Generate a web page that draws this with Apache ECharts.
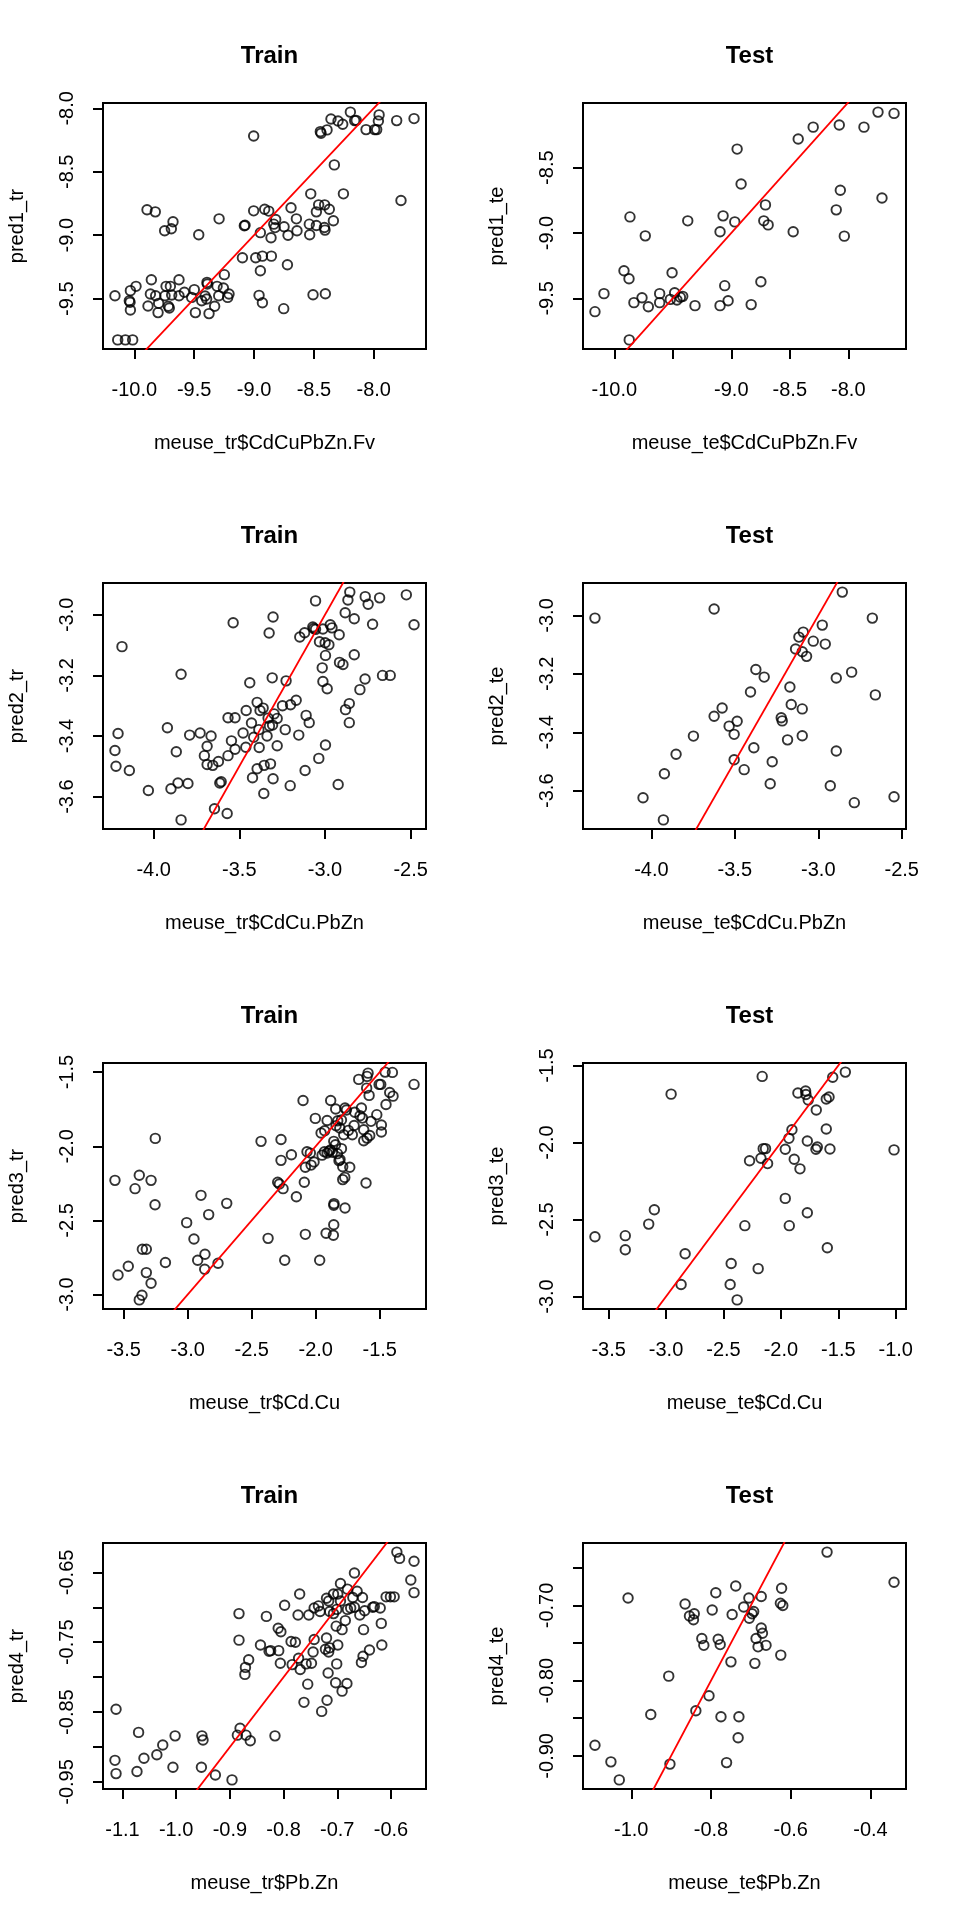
<!DOCTYPE html>
<html><head><meta charset="utf-8">
<script src="https://cdn.jsdelivr.net/npm/echarts@6/dist/echarts.min.js"></script>
<style>html,body{margin:0;padding:0;background:#fff}#c{width:960px;height:1920px}</style>
</head><body><div id="c"></div>
<script>
// ---------- data (x = observed, y = predicted) ----------
const pred1_tr = [[-8.195,-8.03],[-8.357,-8.084],[-8.298,-8.10],[-8.259,-8.126],[-8.159,-8.097],[-8.146,-8.095],[-8.446,-8.184],[-8.44,-8.197],[-8.39,-8.17],[-8.064,-8.168],[-7.992,-8.168],[-7.975,-8.168],[-7.955,-8.052],[-7.961,-8.10],[-7.808,-8.097],[-7.663,-8.081],[-9.003,-8.218],[-8.329,-8.446],[-7.772,-8.727],[-8.526,-8.674],[-8.253,-8.674],
[-9.894,-8.80],[-9.825,-8.816],[-9.677,-8.894],[-9.691,-8.949],[-9.747,-8.965],[-9.462,-8.997],[-9.292,-8.871],[-9.003,-8.808],[-8.911,-8.795],[-8.877,-8.81],[-8.691,-8.784],[-9.081,-8.926],[-9.075,-8.921],[-8.947,-8.98],[-8.858,-9.02],[-8.819,-8.876],[-8.835,-8.913],[-8.824,-8.94],[-8.749,-8.934],[-8.716,-9.0],[-8.646,-8.871],[-8.641,-8.965],[-8.538,-8.913],[-8.535,-8.997],[-8.479,-8.816],[-8.46,-8.761],[-8.41,-8.761],[-8.371,-8.795],[-8.479,-8.923],[-8.412,-8.939],[-8.407,-8.96],[-8.337,-8.886],
[-9.097,-9.178],[-8.986,-9.178],[-8.93,-9.165],[-8.855,-9.165],[-8.947,-9.28],[-8.721,-9.233],[-8.958,-9.474],[-8.93,-9.532],[-8.752,-9.579],[-8.507,-9.469],[-8.404,-9.461],
[-10.162,-9.477],[-10.033,-9.437],[-9.986,-9.403],[-10.042,-9.516],[-10.036,-9.529],[-10.033,-9.589],[-9.858,-9.351],[-9.866,-9.463],[-9.822,-9.477],[-9.886,-9.558],[-9.797,-9.537],[-9.802,-9.61],[-9.735,-9.403],[-9.699,-9.403],[-9.744,-9.477],[-9.688,-9.471],[-9.716,-9.56],[-9.708,-9.574],[-9.627,-9.351],[-9.627,-9.477],[-9.582,-9.45],[-9.499,-9.429],[-9.521,-9.49],[-9.49,-9.61],[-9.393,-9.372],[-9.39,-9.385],[-9.437,-9.516],[-9.409,-9.479],[-9.396,-9.503],[-9.376,-9.618],[-9.329,-9.56],[-9.309,-9.403],[-9.256,-9.416],[-9.248,-9.311],[-9.295,-9.477],[-9.22,-9.49],[-9.209,-9.463],[-10.139,-9.825],[-10.075,-9.825],[-10.014,-9.825]];

const pred1_te = [[-7.746,-8.075],[-7.609,-8.085],[-7.866,-8.19],[-8.077,-8.174],[-8.3,-8.19],[-8.428,-8.281],[-8.95,-8.358],[-8.916,-8.625],[-8.068,-8.673],[-7.712,-8.732],[-8.103,-8.823],[-8.708,-8.785],[-8.722,-8.907],[-8.685,-8.938],[-8.471,-8.991],[-8.034,-9.024],[-9.07,-8.869],[-8.97,-8.915],[-9.096,-8.991],[-9.372,-8.907],[-9.866,-8.877],[-9.735,-9.022],[-9.917,-9.289],[-9.874,-9.35],[-9.506,-9.304],[-9.056,-9.403],[-8.747,-9.373],[-10.088,-9.464],[-9.763,-9.495],[-9.832,-9.533],[-9.709,-9.564],[-9.612,-9.464],[-9.612,-9.533],[-9.484,-9.457],[-9.521,-9.508],[-9.464,-9.513],[-9.435,-9.492],[-9.415,-9.485],[-9.31,-9.556],[-9.096,-9.556],[-9.027,-9.518],[-8.83,-9.548],[-10.165,-9.602],[-9.872,-9.818]];

const pred2_tr = [[-2.855,-2.925],[-2.866,-2.951],[-3.055,-2.954],[-2.765,-2.94],[-2.748,-2.965],[-2.681,-2.944],[-2.525,-2.934],[-2.48,-3.033],[-2.722,-3.031],[-2.882,-2.993],[-2.829,-3.013],[-3.303,-3.007],[-3.536,-3.026],[-3.326,-3.06],[-4.185,-3.105],[-3.071,-3.04],[-3.065,-3.045],[-3.055,-3.048],[-3.119,-3.059],[-3.147,-3.073],[-3.012,-3.047],[-2.969,-3.033],[-2.959,-3.043],[-2.917,-3.066],[-3.032,-3.089],[-2.999,-3.092],[-2.977,-3.099],[-2.997,-3.134],[-3.016,-3.175],[-2.915,-3.157],[-2.895,-3.164],[-2.829,-3.132],[-2.664,-3.2],[-2.619,-3.2],[-2.766,-3.212],[-2.796,-3.247],[-3.012,-3.22],[-2.987,-3.244],[-3.84,-3.196],[-3.439,-3.224],[-3.308,-3.208],[-3.227,-3.218],[-3.168,-3.282],[-3.201,-3.297],[-3.248,-3.3],[-3.396,-3.289],[-3.361,-3.308],[-3.379,-3.316],[-3.46,-3.316],[-3.297,-3.327],[-3.332,-3.341],[-3.279,-3.342],[-3.324,-3.367],[-3.306,-3.364],[-3.566,-3.34],[-3.525,-3.34],[-3.429,-3.357],[-3.386,-3.379],[-3.232,-3.379],[-3.11,-3.332],[-3.092,-3.356],[-3.153,-3.397],[-2.88,-3.313],[-2.858,-3.293],[-2.858,-3.356],[-3.478,-3.39],[-3.416,-3.404],[-3.338,-3.4],[-3.546,-3.416],[-3.462,-3.437],[-3.525,-3.444],[-3.384,-3.438],[-3.279,-3.432],[-3.566,-3.465],[-2.997,-3.43],[-3.036,-3.474],[-3.92,-3.373],[-3.79,-3.397],[-3.729,-3.39],[-3.665,-3.4],[-3.688,-3.434],[-3.704,-3.465],[-3.688,-3.494],[-3.655,-3.497],[-3.622,-3.484],[-4.208,-3.392],[-4.226,-3.448],[-4.22,-3.5],[-4.142,-3.514],[-3.868,-3.452],[-3.396,-3.508],[-3.355,-3.497],[-3.318,-3.492],[-3.423,-3.538],[-3.303,-3.541],[-3.116,-3.514],[-3.203,-3.564],[-3.357,-3.59],[-2.923,-3.56],[-4.031,-3.58],[-3.899,-3.574],[-3.858,-3.555],[-3.8,-3.557],[-3.614,-3.555],[-3.606,-3.551],[-3.645,-3.64],[-3.571,-3.656],[-3.84,-3.677]];

const pred2_te = [[-4.338,-3.009],[-3.624,-2.978],[-2.856,-2.92],[-2.676,-3.009],[-2.976,-3.033],[-3.09,-3.057],[-3.116,-3.074],[-3.03,-3.088],[-2.958,-3.098],[-3.136,-3.115],[-3.096,-3.124],[-3.07,-3.14],[-2.8,-3.194],[-2.892,-3.214],[-2.658,-3.272],[-3.374,-3.185],[-3.324,-3.211],[-3.406,-3.262],[-3.17,-3.245],[-3.162,-3.305],[-3.096,-3.32],[-3.576,-3.317],[-3.624,-3.345],[-3.486,-3.362],[-3.534,-3.379],[-3.504,-3.407],[-3.222,-3.35],[-3.216,-3.361],[-3.184,-3.426],[-3.096,-3.412],[-3.748,-3.413],[-3.852,-3.475],[-3.386,-3.453],[-3.504,-3.494],[-3.444,-3.528],[-3.276,-3.501],[-2.892,-3.464],[-3.922,-3.542],[-3.288,-3.576],[-2.928,-3.583],[-4.05,-3.624],[-2.784,-3.641],[-2.546,-3.621],[-3.928,-3.7]];

const pred3_tr = [[-1.591,-1.507],[-1.599,-1.529],[-1.458,-1.5],[-1.401,-1.502],[-1.664,-1.549],[-1.505,-1.583],[-1.492,-1.583],[-1.232,-1.583],[-1.602,-1.608],[-1.583,-1.657],[-1.422,-1.637],[-1.396,-1.662],[-1.451,-1.718],[-2.099,-1.691],[-1.883,-1.691],[-1.844,-1.749],[-1.771,-1.742],[-1.76,-1.756],[-1.643,-1.742],[-1.695,-1.771],[-1.654,-1.794],[-1.635,-1.81],[-1.523,-1.787],[-2.003,-1.812],[-1.911,-1.826],[-1.828,-1.828],[-1.799,-1.823],[-1.568,-1.832],[-1.487,-1.857],[-1.487,-1.904],[-1.625,-1.889],[-1.578,-1.927],[-1.599,-1.945],[-1.625,-1.963],[-1.93,-1.895],[-1.958,-1.911],[-1.841,-1.862],[-1.812,-1.877],[-1.781,-1.922],[-1.745,-1.893],[-1.714,-1.922],[-1.70,-1.86],[-1.859,-1.967],[-1.846,-1.99],[-1.799,-2.016],[-1.885,-2.025],[-1.87,-2.04],[-1.83,-2.05],[-1.95,-2.06],[-2.068,-2.037],[-2.042,-2.046],[-1.932,-2.037],[-1.911,-2.046],[-1.896,-2.034],[-1.818,-2.097],[-1.81,-2.09],[-2.013,-2.106],[-2.036,-2.127],[-2.081,-2.142],[-1.789,-2.138],[-1.734,-2.142],[-1.789,-2.225],[-1.773,-2.21],[-1.607,-2.248],[-2.427,-1.967],[-2.271,-1.954],[-2.19,-2.057],[-2.271,-2.095],[-2.297,-2.243],[-2.284,-2.255],[-2.255,-2.286],[-2.089,-2.243],[-2.151,-2.34],[-1.857,-2.387],[-1.859,-2.398],[-1.771,-2.416],[-1.859,-2.529],[-1.919,-2.587],[-1.862,-2.6],[-2.081,-2.594],[-2.372,-2.621],[-2.242,-2.769],[-1.969,-2.769],[-3.253,-1.947],[-3.568,-2.23],[-3.378,-2.196],[-3.286,-2.23],[-3.411,-2.286],[-3.255,-2.394],[-2.896,-2.331],[-2.695,-2.385],[-2.836,-2.461],[-3.008,-2.515],[-2.951,-2.625],[-3.354,-2.695],[-3.323,-2.695],[-2.865,-2.728],[-2.922,-2.769],[-2.867,-2.829],[-2.763,-2.789],[-3.174,-2.784],[-3.464,-2.809],[-3.544,-2.868],[-3.323,-2.852],[-3.286,-2.924],[-3.357,-3.005],[-3.378,-3.036]];

const pred3_te = [[-1.439,-1.543],[-1.549,-1.576],[-2.163,-1.571],[-2.956,-1.686],[-1.852,-1.679],[-1.785,-1.666],[-1.782,-1.688],[-1.762,-1.724],[-1.605,-1.718],[-1.581,-1.705],[-1.692,-1.789],[-1.904,-1.917],[-1.605,-1.912],[-1.93,-1.973],[-1.77,-1.99],[-1.683,-2.029],[-1.695,-2.044],[-1.573,-2.042],[-1.015,-2.048],[-2.154,-2.04],[-2.134,-2.04],[-1.962,-2.044],[-2.174,-2.102],[-2.116,-2.137],[-2.273,-2.119],[-1.884,-2.109],[-1.834,-2.171],[-1.962,-2.363],[-1.77,-2.456],[-1.927,-2.54],[-2.314,-2.54],[-1.596,-2.683],[-3.102,-2.437],[-3.151,-2.53],[-3.619,-2.612],[-3.355,-2.605],[-3.355,-2.696],[-2.834,-2.722],[-2.433,-2.786],[-2.198,-2.819],[-2.869,-2.922],[-2.442,-2.922],[-2.381,-3.022]];

const pred4_tr = [[-0.589,-0.621],[-0.584,-0.63],[-0.557,-0.634],[-0.563,-0.661],[-0.557,-0.679],[-0.668,-0.651],[-0.609,-0.685],[-0.601,-0.685],[-0.594,-0.685],[-0.694,-0.666],[-0.681,-0.674],[-0.663,-0.677],[-0.653,-0.686],[-0.671,-0.686],[-0.707,-0.681],[-0.699,-0.681],[-0.72,-0.687],[-0.716,-0.691],[-0.694,-0.691],[-0.77,-0.681],[-0.798,-0.697],[-0.743,-0.701],[-0.735,-0.698],[-0.732,-0.706],[-0.753,-0.711],[-0.773,-0.711],[-0.714,-0.706],[-0.707,-0.709],[-0.701,-0.703],[-0.681,-0.703],[-0.675,-0.701],[-0.668,-0.7],[-0.658,-0.711],[-0.649,-0.705],[-0.634,-0.7],[-0.631,-0.699],[-0.62,-0.701],[-0.618,-0.723],[-0.617,-0.754],[-0.64,-0.761],[-0.652,-0.77],[-0.655,-0.779],[-0.651,-0.732],[-0.685,-0.719],[-0.702,-0.727],[-0.691,-0.732],[-0.699,-0.754],[-0.72,-0.744],[-0.714,-0.758],[-0.716,-0.764],[-0.722,-0.76],[-0.743,-0.746],[-0.745,-0.764],[-0.786,-0.749],[-0.778,-0.75],[-0.81,-0.73],[-0.805,-0.735],[-0.832,-0.713],[-0.883,-0.709],[-0.883,-0.747],[-0.843,-0.754],[-0.827,-0.763],[-0.824,-0.762],[-0.809,-0.762],[-0.806,-0.78],[-0.784,-0.782],[-0.772,-0.773],[-0.769,-0.789],[-0.758,-0.781],[-0.748,-0.78],[-0.701,-0.781],[-0.717,-0.794],[-0.703,-0.808],[-0.682,-0.809],[-0.691,-0.82],[-0.755,-0.81],[-0.762,-0.836],[-0.719,-0.833],[-0.729,-0.849],[-0.865,-0.775],[-0.871,-0.786],[-0.872,-0.796],[-1.112,-0.846],[-1.07,-0.879],[-1.002,-0.884],[-0.952,-0.884],[-0.95,-0.89],[-1.025,-0.897],[-1.036,-0.911],[-1.06,-0.916],[-1.114,-0.919],[-1.112,-0.938],[-1.073,-0.935],[-1.006,-0.929],[-0.953,-0.929],[-0.927,-0.94],[-0.896,-0.947],[-0.881,-0.873],[-0.886,-0.883],[-0.87,-0.883],[-0.862,-0.891],[-0.816,-0.884]];

const pred4_te = [[-0.509,-0.629],[-0.341,-0.669],[-1.008,-0.69],[-0.738,-0.674],[-0.788,-0.683],[-0.865,-0.698],[-0.797,-0.706],[-0.747,-0.712],[-0.705,-0.69],[-0.718,-0.702],[-0.674,-0.688],[-0.623,-0.677],[-0.626,-0.697],[-0.62,-0.7],[-0.693,-0.708],[-0.697,-0.711],[-0.704,-0.717],[-0.854,-0.714],[-0.842,-0.711],[-0.844,-0.719],[-0.823,-0.744],[-0.818,-0.753],[-0.782,-0.745],[-0.777,-0.752],[-0.674,-0.73],[-0.671,-0.737],[-0.687,-0.744],[-0.682,-0.755],[-0.662,-0.753],[-0.625,-0.766],[-0.75,-0.775],[-0.69,-0.777],[-0.906,-0.794],[-0.805,-0.82],[-0.838,-0.84],[-0.951,-0.845],[-0.775,-0.848],[-0.73,-0.848],[-0.732,-0.876],[-1.091,-0.886],[-1.051,-0.908],[-0.903,-0.911],[-0.761,-0.909],[-1.03,-0.932]];

// ---------- titles and axis names ----------
const panelTitles = ['Train','Test','Train','Test','Train','Test','Train','Test'];
const xNames = ['meuse_tr$CdCuPbZn.Fv','meuse_te$CdCuPbZn.Fv','meuse_tr$CdCu.PbZn','meuse_te$CdCu.PbZn','meuse_tr$Cd.Cu','meuse_te$Cd.Cu','meuse_tr$Pb.Zn','meuse_te$Pb.Zn'];
const yNames = ['pred1_tr','pred1_te','pred2_tr','pred2_te','pred3_tr','pred3_te','pred4_tr','pred4_te'];

// ---------- ticks (value) and tick labels ('' = tick without label) ----------
const xTicks1 = [-10,-9.5,-9,-8.5,-8];            const xLabels1 = ['-10.0','-9.5','-9.0','-8.5','-8.0'];
const yTicks1 = [-9.5,-9,-8.5,-8];                const yLabels1 = ['-9.5','-9.0','-8.5','-8.0'];
const xTicks2 = [-10,-9.5,-9,-8.5,-8];            const xLabels2 = ['-10.0','','-9.0','-8.5','-8.0'];
const yTicks2 = [-9.5,-9,-8.5];                   const yLabels2 = ['-9.5','-9.0','-8.5'];
const xTicks3 = [-4,-3.5,-3,-2.5];                const xLabels3 = ['-4.0','-3.5','-3.0','-2.5'];
const yTicks3 = [-3.6,-3.4,-3.2,-3.0];            const yLabels3 = ['-3.6','-3.4','-3.2','-3.0'];
const xTicks4 = [-4,-3.5,-3,-2.5];                const xLabels4 = ['-4.0','-3.5','-3.0','-2.5'];
const yTicks4 = [-3.6,-3.4,-3.2,-3.0];            const yLabels4 = ['-3.6','-3.4','-3.2','-3.0'];
const xTicks5 = [-3.5,-3,-2.5,-2,-1.5];           const xLabels5 = ['-3.5','-3.0','-2.5','-2.0','-1.5'];
const yTicks5 = [-3,-2.5,-2,-1.5];                const yLabels5 = ['-3.0','-2.5','-2.0','-1.5'];
const xTicks6 = [-3.5,-3,-2.5,-2,-1.5,-1];        const xLabels6 = ['-3.5','-3.0','-2.5','-2.0','-1.5','-1.0'];
const yTicks6 = [-3,-2.5,-2,-1.5];                const yLabels6 = ['-3.0','-2.5','-2.0','-1.5'];
const xTicks7 = [-1.1,-1.0,-0.9,-0.8,-0.7,-0.6];  const xLabels7 = ['-1.1','-1.0','-0.9','-0.8','-0.7','-0.6'];
const yTicks7 = [-0.95,-0.9,-0.85,-0.8,-0.75,-0.7,-0.65]; const yLabels7 = ['-0.95','','-0.85','','-0.75','','-0.65'];
const xTicks8 = [-1.0,-0.8,-0.6,-0.4];            const xLabels8 = ['-1.0','-0.8','-0.6','-0.4'];
const yTicks8 = [-0.9,-0.85,-0.8,-0.75,-0.7,-0.65]; const yLabels8 = ['-0.90','','-0.80','','-0.70',''];

// ---------- assemble ----------
const panels = [
  {d: pred1_tr, xt: xTicks1, xl: xLabels1, yt: yTicks1, yl: yLabels1},
  {d: pred1_te, xt: xTicks2, xl: xLabels2, yt: yTicks2, yl: yLabels2},
  {d: pred2_tr, xt: xTicks3, xl: xLabels3, yt: yTicks3, yl: yLabels3},
  {d: pred2_te, xt: xTicks4, xl: xLabels4, yt: yTicks4, yl: yLabels4},
  {d: pred3_tr, xt: xTicks5, xl: xLabels5, yt: yTicks5, yl: yLabels5},
  {d: pred3_te, xt: xTicks6, xl: xLabels6, yt: yTicks6, yl: yLabels6},
  {d: pred4_tr, xt: xTicks7, xl: xLabels7, yt: yTicks7, yl: yLabels7},
  {d: pred4_te, xt: xTicks8, xl: xLabels8, yt: yTicks8, yl: yLabels8}
];

const FONT = '"Liberation Sans", Arial, Helvetica, sans-serif';
// R-style axis range: data range extended by 4% on each side
function rRange(vals) {
  const lo = Math.min(...vals), hi = Math.max(...vals), e = (hi - lo) * 0.04;
  return [lo - e, hi + e];
}
function labelFor(ticks, labels) {
  return v => { let bi = 0; ticks.forEach((t, i) => { if (Math.abs(t - v) < Math.abs(ticks[bi] - v)) bi = i; }); return labels[bi]; };
}

const grids = [], xAxes = [], yAxes = [], titles = [], series = [];
panels.forEach((p, i) => {
  const col = i % 2, row = Math.floor(i / 2);
  const ox = col * 480, oy = row * 480;
  const xr = rRange(p.d.map(a => a[0])), yr = rRange(p.d.map(a => a[1]));
  grids.push({left: ox + 103, top: oy + 103, width: 323, height: 246, show: true,
              borderColor: '#000', borderWidth: 2, backgroundColor: 'transparent', containLabel: false});
  titles.push({text: panelTitles[i], left: ox + 264.5, top: oy + 39, textAlign: 'center',
               textStyle: {fontFamily: FONT, fontSize: 24, fontWeight: 'bold', color: '#000'}});
  const common = {
    type: 'value', gridIndex: i, scale: true,
    splitLine: {show: false},
    axisLine: {show: false, onZero: false},
    axisTick: {show: true, length: 10, inside: false, lineStyle: {color: '#000', width: 2}},
    nameLocation: 'middle',
    nameTextStyle: {fontFamily: FONT, fontSize: 20, color: '#000'}
  };
  xAxes.push(Object.assign({}, common, {
    min: xr[0], max: xr[1], name: xNames[i], nameGap: 84,
    axisTick: Object.assign({}, common.axisTick, {customValues: p.xt}),
    axisLabel: {customValues: p.xt.filter((t, k) => p.xl[k] !== ''), formatter: labelFor(p.xt, p.xl),
                fontFamily: FONT, fontSize: 20, color: '#000', margin: 31, hideOverlap: false,
                showMinLabel: true, showMaxLabel: true}
  }));
  yAxes.push(Object.assign({}, common, {
    min: yr[0], max: yr[1], name: yNames[i], nameGap: 76, nameRotate: 90,
    axisTick: Object.assign({}, common.axisTick, {customValues: p.yt}),
    axisLabel: {customValues: p.yt.filter((t, k) => p.yl[k] !== ''), formatter: labelFor(p.yt, p.yl),
                rotate: 90, fontFamily: FONT, fontSize: 20, color: '#000', margin: 26, hideOverlap: false}
  }));
  series.push({type: 'scatter', xAxisIndex: i, yAxisIndex: i, data: p.d, symbol: 'circle', symbolSize: 9.5,
               itemStyle: {color: 'rgba(0,0,0,0)', borderColor: '#000', borderWidth: 1.9}, silent: true});
  const lo = Math.min(xr[0], yr[0]) - 1, hi = Math.max(xr[1], yr[1]) + 1;
  series.push({type: 'line', xAxisIndex: i, yAxisIndex: i, data: [[lo, lo], [hi, hi]], symbol: 'none',
               clip: true, lineStyle: {color: '#ff0000', width: 1.8}, silent: true, z: 3});
});

const chart = echarts.init(document.getElementById('c'), null, {renderer: 'canvas'});
chart.setOption({
  backgroundColor: '#ffffff', animation: false,
  title: titles, grid: grids, xAxis: xAxes, yAxis: yAxes, series: series
});
</script></body></html>
